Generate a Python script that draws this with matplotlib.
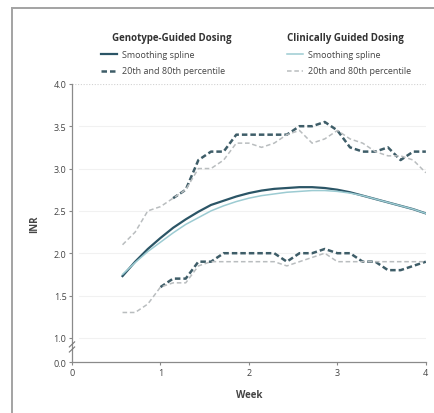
import numpy as np
import matplotlib
matplotlib.use("Agg")
import matplotlib.pyplot as plt
from matplotlib.lines import Line2D

plt.rcParams['font.family'] = ['Open Sans', 'DejaVu Sans']

# days 4..28 expressed in weeks
days = np.arange(4, 29)
weeks = days / 7.0

nan = np.nan
geno_spline = [1.73, 1.90, 2.05, 2.18, 2.30, 2.40, 2.49, 2.57, 2.62, 2.67, 2.71, 2.74, 2.76,
               2.77, 2.78, 2.78, 2.77, 2.75, 2.72, 2.68, 2.64, 2.60, 2.56, 2.52, 2.47]
clin_spline = [1.75, 1.89, 2.02, 2.13, 2.24, 2.34, 2.42, 2.50, 2.56, 2.61, 2.65, 2.68, 2.70,
               2.72, 2.73, 2.74, 2.74, 2.73, 2.71, 2.68, 2.64, 2.60, 2.56, 2.52, 2.47]
# early genotype percentile points are hidden under the clinical ones
geno_p80 = [nan, nan, nan, nan, 2.65, 2.75, 3.10, 3.20, 3.20, 3.40, 3.40, 3.40, 3.40,
            3.40, 3.50, 3.50, 3.55, 3.45, 3.25, 3.20, 3.20, 3.25, 3.10, 3.20, 3.20]
clin_p80 = [2.10, 2.25, 2.50, 2.55, 2.65, 2.75, 3.00, 3.00, 3.10, 3.30, 3.30, 3.25, 3.30,
            3.40, 3.45, 3.30, 3.35, 3.45, 3.35, 3.30, 3.20, 3.15, 3.15, 3.10, 2.95]
geno_p20 = [nan, nan, nan, 1.60, 1.70, 1.70, 1.90, 1.90, 2.00, 2.00, 2.00, 2.00, 2.00,
            1.90, 2.00, 2.00, 2.05, 2.00, 2.00, 1.90, 1.90, 1.80, 1.80, 1.85, 1.90]
clin_p20 = [1.30, 1.30, 1.40, 1.60, 1.65, 1.65, 1.85, 1.90, 1.90, 1.90, 1.90, 1.90, 1.90,
            1.85, 1.90, 1.95, 2.00, 1.90, 1.90, 1.90, 1.90, 1.90, 1.90, 1.90, 1.90]

y_ticks = [1.0, 1.5, 2.0, 2.5, 3.0, 3.5, 4.0]
x_ticks = [0, 1, 2, 3, 4]

dark = '#2b5566'
dark_dash = '#3e5d68'
light = '#9ccbd2'
light_dash = '#b9bdbf'
txt = '#444444'

fig = plt.figure(figsize=(4.35, 4.14), dpi=100)
ax = fig.add_axes([0.1655, 0.123, 0.8135, 0.672])

# broken axis: "0.0" sits just below 1.0
y_zero = 1.0 - 24 / 84
ax.set_ylim(y_zero, 4.0)
ax.set_xlim(0, 4)

for y in y_ticks[:-1]:
    ax.axhline(y, xmin=0.02, xmax=1.0, color='#f1f1f1', lw=0.8, zorder=0)
ax.axhline(4.0, color='#d2d2d2', lw=0.8, ls=(0, (1, 1.5)), zorder=0)

ax.plot(weeks, geno_p80, color=dark_dash, lw=1.8, ls=(0, (2.2, 1.2)), zorder=2)
ax.plot(weeks, geno_p20, color=dark_dash, lw=1.8, ls=(0, (2.2, 1.2)), zorder=2)
ax.plot(weeks, geno_spline, color=dark, lw=1.6, zorder=3)
ax.plot(weeks, clin_p80, color=light_dash, lw=1.1, ls=(0, (3, 1.8)), zorder=4)
ax.plot(weeks, clin_p20, color=light_dash, lw=1.1, ls=(0, (3, 1.8)), zorder=4)
ax.plot(weeks, clin_spline, color=light, lw=1.1, zorder=4)

ax.set_yticks([y_zero] + y_ticks)
ax.set_yticklabels(['0.0'] + ['%.1f' % v for v in y_ticks])
ax.set_xticks(x_ticks)
ax.set_xticklabels([str(v) for v in x_ticks])
ax.tick_params(axis='both', colors='#888888', labelcolor=txt, labelsize=6.5,
               length=2.5, width=0.8, pad=1.5)

for s in ['top', 'right']:
    ax.spines[s].set_visible(False)
for s in ['left', 'bottom']:
    ax.spines[s].set_color('#8a8a8a')
    ax.spines[s].set_linewidth(0.9)

# break marks on the y axis
yb = 1.0 - 9 / 84
for dy in (-0.03, 0.03):
    ax.plot([-0.03, 0.03], [yb + dy - 0.03, yb + dy + 0.03], color='#777777', lw=0.8,
            clip_on=False, zorder=5)

ax.set_xlabel('Week', fontsize=7, fontweight='bold', color=txt, labelpad=9)
ax.set_ylabel('INR', fontsize=7, fontweight='bold', color=txt, labelpad=10)

# legend
fig.text(172 / 435, 1 - 38 / 414, 'Genotype-Guided Dosing', ha='center', va='center',
         fontsize=7, fontweight='bold', color='#333333')
fig.text(345 / 435, 1 - 38 / 414, 'Clinically Guided Dosing', ha='center', va='center',
         fontsize=7, fontweight='bold', color='#333333')
entries = [
    (101, 55, dark, '-', 1.6, 'Smoothing spline'),
    (101, 72, dark_dash, (0, (2.2, 1.2)), 1.8, '20th and 80th percentile'),
    (287, 55, light, '-', 1.1, 'Smoothing spline'),
    (287, 72, light_dash, (0, (3, 1.8)), 1.1, '20th and 80th percentile'),
]
for x0, y0, c, ls, lw, label in entries:
    fy = 1 - y0 / 414
    fig.add_artist(Line2D([x0 / 435, (x0 + 16) / 435], [fy, fy], color=c, ls=ls, lw=lw))
    fig.text((x0 + 21) / 435, fy, label, ha='left', va='center', fontsize=6.5, color=txt)

# outer frame (left and top edges)
fig.add_artist(Line2D([12 / 435, 12 / 435], [0, 1 - 9 / 414], color='#a3a3a3', lw=1.4))
fig.add_artist(Line2D([12 / 435, 1], [1 - 9 / 414, 1 - 9 / 414], color='#a3a3a3', lw=1.4))

fig.savefig('out.png', dpi=100)
